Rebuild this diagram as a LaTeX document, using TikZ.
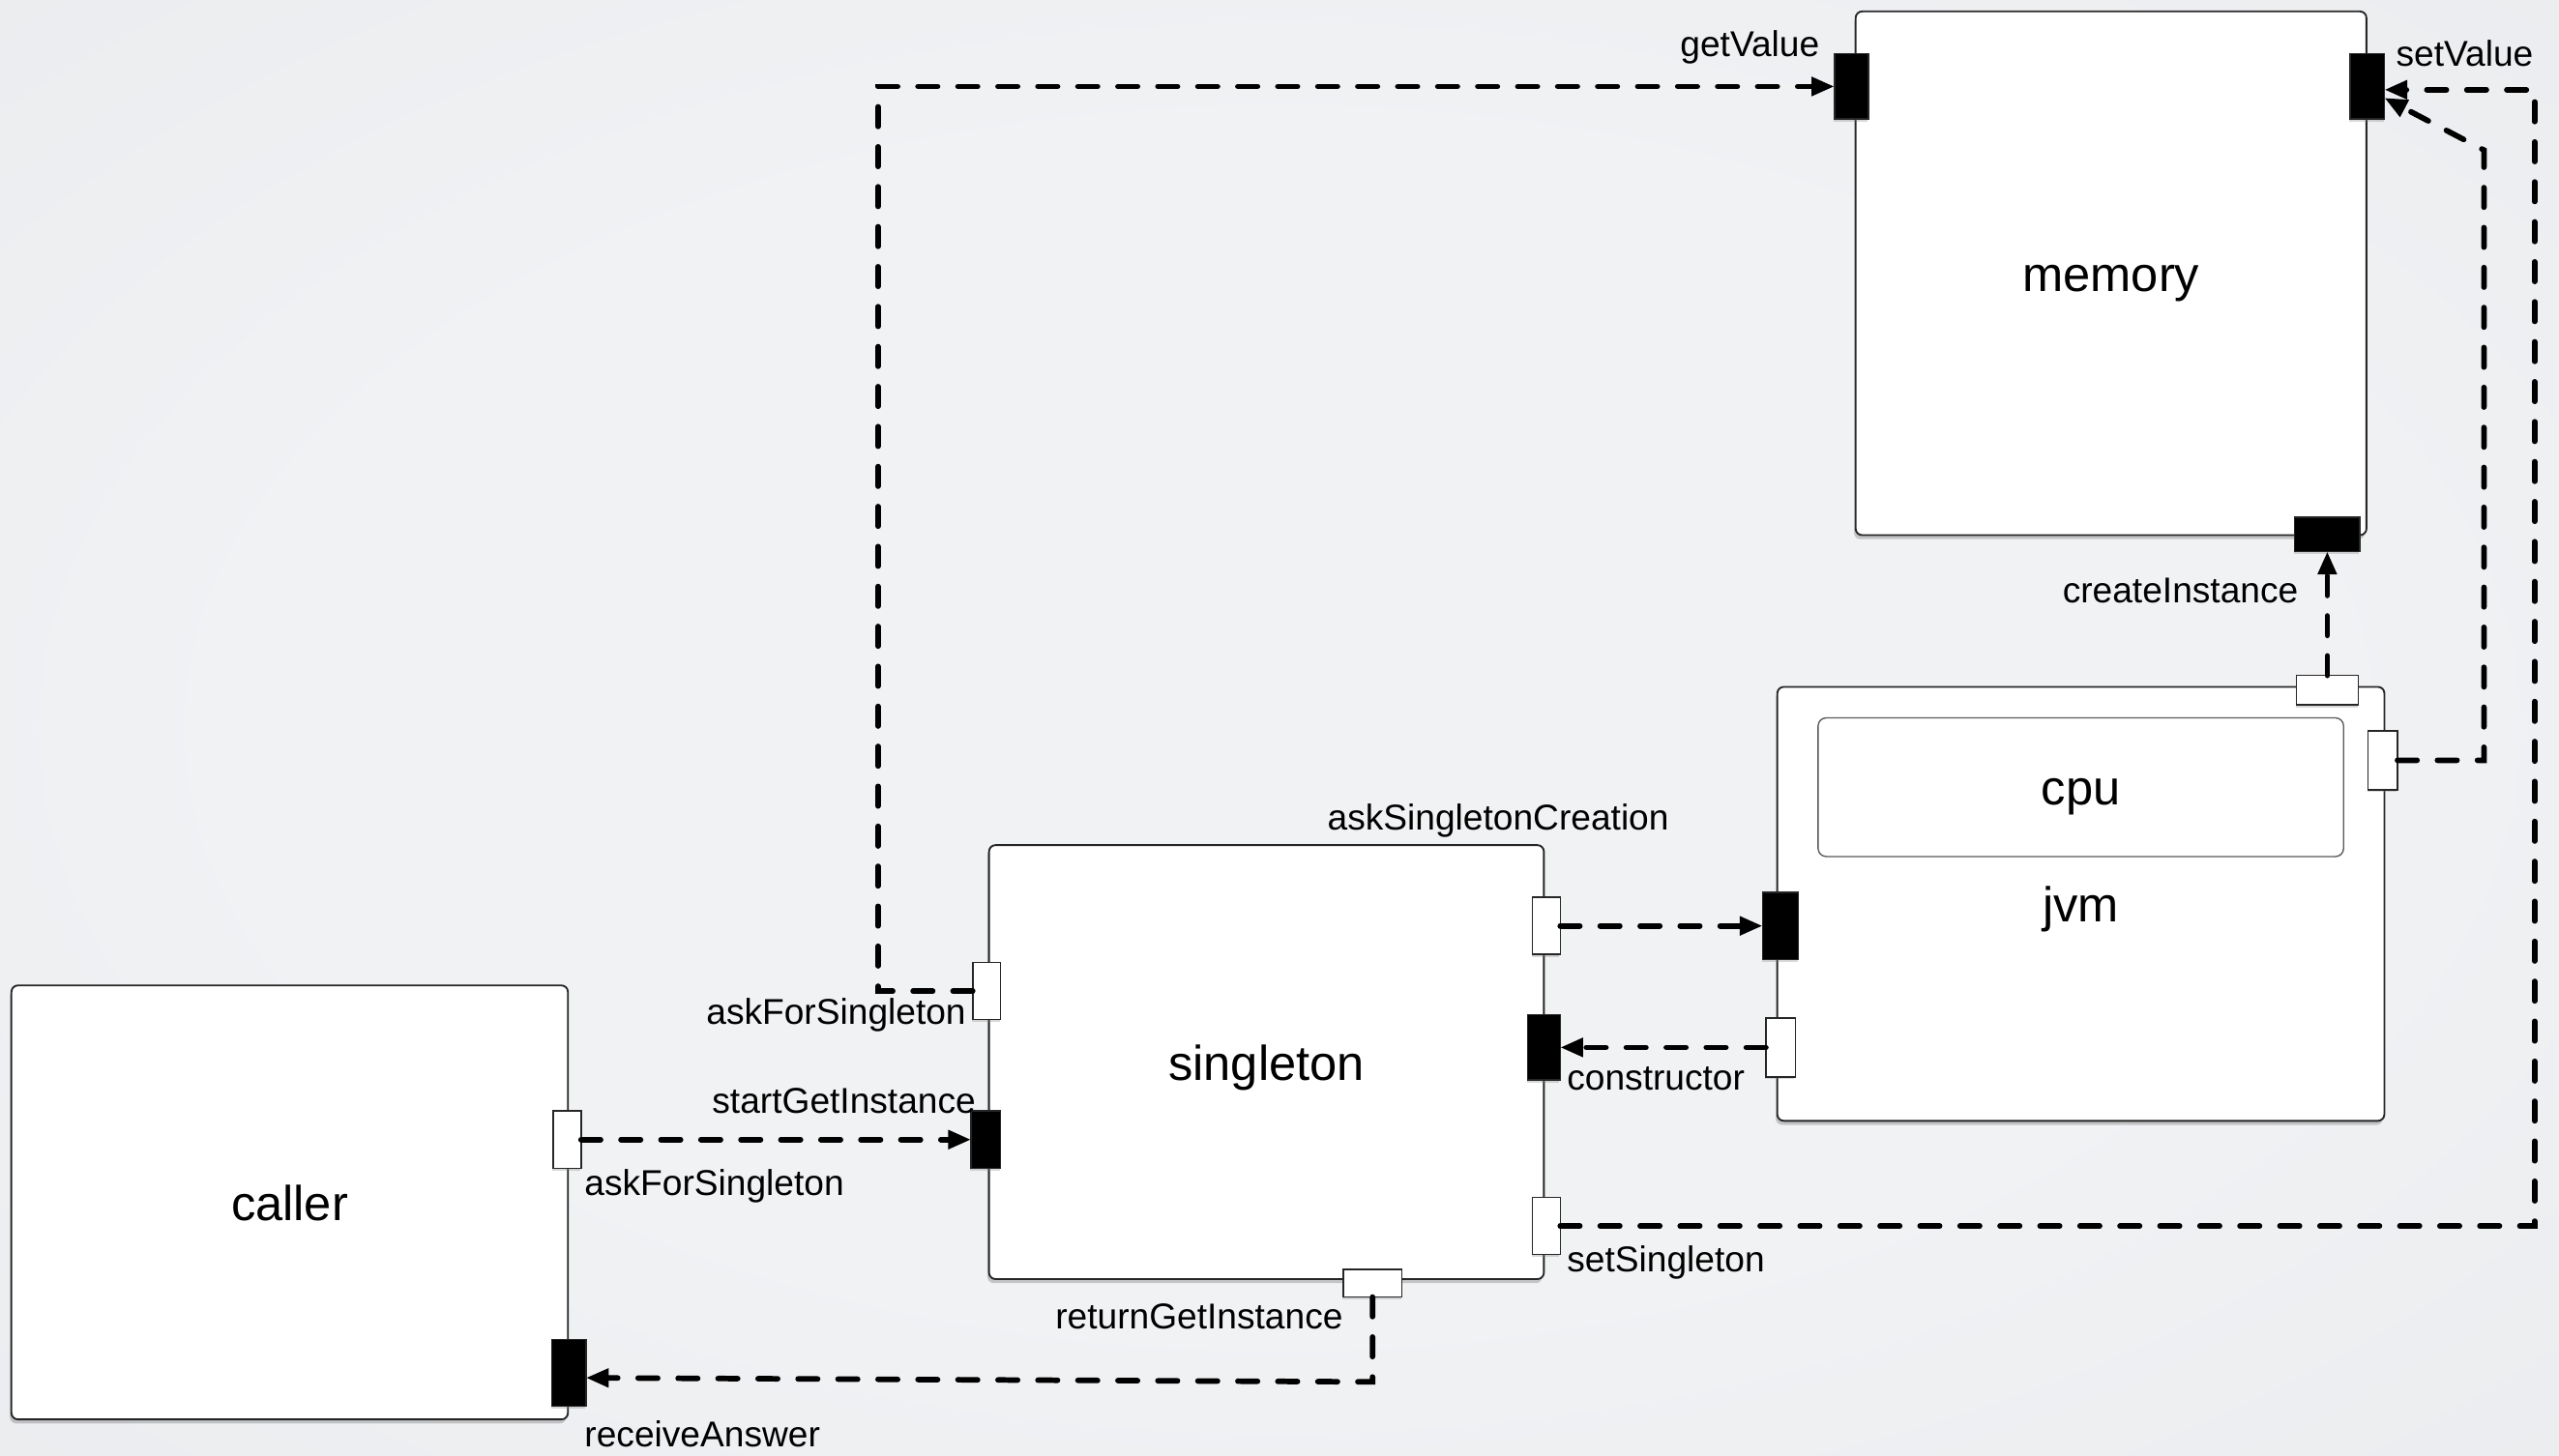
\documentclass[tikz,border=0pt]{standalone}
\usepackage{fontspec}
\setmainfont{Liberation Sans}
\usetikzlibrary{shadows,arrows.meta}
\definecolor{bgin}{RGB}{241,242,244}
\definecolor{bgout}{RGB}{221,224,228}
\pgfdeclareradialshading{bgshade}{\pgfpoint{0bp}{0bp}}{color(0bp)=(bgin); color(20bp)=(bgin); color(71bp)=(bgout)}
\begin{document}
\begin{tikzpicture}[x=1pt,y=-1pt,
  box/.style={draw=black!85, line width=1.1pt, fill=white, rounded corners=4pt, inner sep=0pt,
    font=\fontsize{30}{32}\selectfont, text height=22pt, text depth=0pt,
    drop shadow={shadow xshift=-1pt, shadow yshift=-2.5pt, opacity=.4}},
  innerbox/.style={draw=black!65, line width=0.8pt, fill=white, rounded corners=5pt, inner sep=0pt,
    font=\fontsize{30}{32}\selectfont, text height=22pt, text depth=0pt},
  portw/.style={draw=black!85, line width=0.9pt, fill=white, inner sep=0pt, outer sep=0pt,
    drop shadow={shadow xshift=-0.5pt, shadow yshift=-1.5pt, opacity=.3}},
  portb/.style={portw, fill=black},
  lbl/.style={font=\fontsize{22}{24}\selectfont, inner sep=0pt},
  conn/.style={line width=3.4pt, line cap=round, dash pattern=on 12pt off 12.5pt,
    -{Triangle[length=14pt,width=11pt]}},
]
\path[use as bounding box] (0,0) rectangle (1568,892);
\shade[shading=bgshade] (0,0) rectangle (1568,892);

% boxes
\node[box, minimum width=313pt, minimum height=321pt] (memory) at (1293.5,167.5) {memory};
\node[box, minimum width=372pt, minimum height=266pt] (jvm) at (1275,554) {jvm};
\node[innerbox, minimum width=322pt, minimum height=85pt] (cpu) at (1275,482.5) {cpu};
\node[box, minimum width=340pt, minimum height=266pt] (singleton) at (776,651) {singleton};
\node[box, minimum width=341pt, minimum height=266pt] (caller) at (177.5,737) {caller};

% ports
\node[portb, minimum width=21pt, minimum height=40pt] (getv) at (1134.5,53) {};
\node[portb, minimum width=21pt, minimum height=40pt] (setv) at (1450.5,53) {};
\node[portb, minimum width=40pt, minimum height=21pt] (ci) at (1426,327.5) {};
\node[portw, minimum width=38pt, minimum height=18pt] (jt) at (1426,423) {};
\node[portw, minimum width=18pt, minimum height=36pt] (jr) at (1460,466) {};
\node[portb, minimum width=22pt, minimum height=41pt] (jl) at (1091,567.5) {};
\node[portw, minimum width=18pt, minimum height=36pt] (jlw) at (1091,642) {};
\node[portw, minimum width=17pt, minimum height=35pt] (afs1) at (604.5,607.5) {};
\node[portb, minimum width=18pt, minimum height=35pt] (sgi) at (604,698.5) {};
\node[portw, minimum width=17pt, minimum height=35pt] (asc) at (947.5,567.5) {};
\node[portb, minimum width=20pt, minimum height=40pt] (ctor) at (946,642) {};
\node[portw, minimum width=17pt, minimum height=35pt] (setS) at (947.5,751.5) {};
\node[portw, minimum width=36pt, minimum height=17pt] (rgi) at (841,786.5) {};
\node[portw, minimum width=17pt, minimum height=35pt] (cafs) at (347.5,698.5) {};
\node[portb, minimum width=21pt, minimum height=41pt] (ra) at (348.5,841.5) {};

% connectors
\draw[conn] (afs1.west) -- ++(-58,0) |- (getv.west);
\draw[conn] (cafs.east) -- (sgi.west);
\draw[conn] (asc.east) -- (jl.west);
\draw[conn] (jlw.west) -- (ctor.east);
\draw[conn] (rgi.south) -- ++(0,52) -- ([yshift=-3pt]ra.east);
\draw[conn] (setS.east) -- ++(597,0) |- ([yshift=-2pt]setv.east);
\draw[conn] (jr.east) -- ++(53,0) -- ++(0,-374) -- ([yshift=-7pt]setv.east);
\draw[conn] (jt.north) -- (ci.south);

% labels
\node[lbl, anchor=east] (lgetv) at (1115,29) {getValue};
\node[lbl, anchor=west] (lsetv) at (1468,33) {setValue};
\node[lbl] (lci) at (1336,362) {createInstance};
\node[lbl] (lasc) at (918,503) {askSingletonCreation};
\node[lbl, anchor=east] (lafs1) at (592,622) {askForSingleton};
\node[lbl, anchor=east] (lsgi) at (598,675) {startGetInstance};
\node[lbl, anchor=west] (lcafs) at (358,727) {askForSingleton};
\node[lbl, anchor=west] (lctor) at (960,661) {constructor};
\node[lbl, anchor=west] (lsets) at (960,774) {setSingleton};
\node[lbl, anchor=east] (lrgi) at (823,807) {returnGetInstance};
\node[lbl, anchor=west] (lra) at (358,879) {receiveAnswer};
\end{tikzpicture}
\end{document}
